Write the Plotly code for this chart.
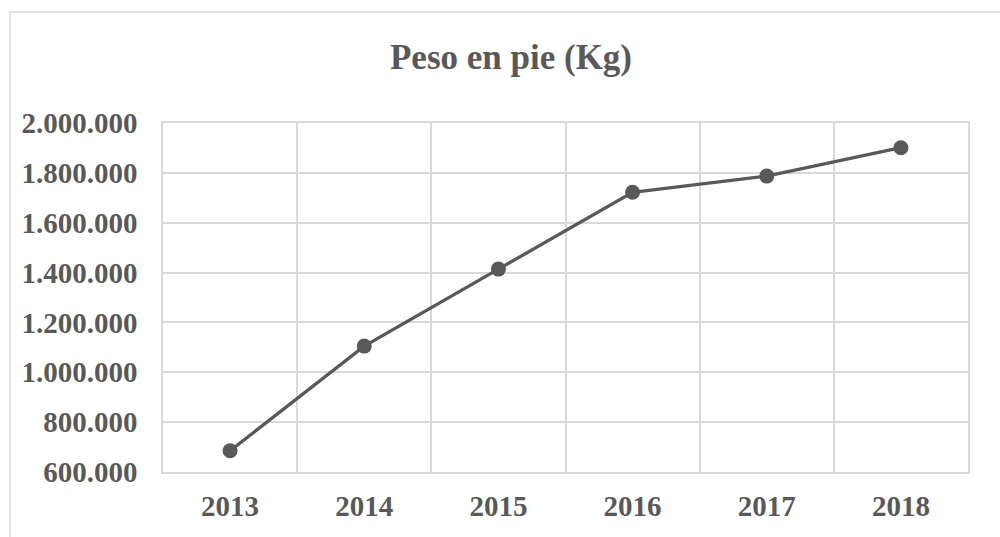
import plotly.graph_objects as go

years = ["2013", "2014", "2015", "2016", "2017", "2018"]
peso = [685000, 1105000, 1414000, 1722000, 1787000, 1901000]
y_ticks = [600000, 800000, 1000000, 1200000, 1400000, 1600000, 1800000, 2000000]

grey = "#595959"
grid = "#d9d9d9"
font_family = "Liberation Serif, Times New Roman, serif"

fig = go.Figure()
fig.add_trace(go.Scatter(
    x=years, y=peso, mode="lines+markers",
    line=dict(color=grey, width=3.3),
    marker=dict(color=grey, size=15),
    showlegend=False,
))

L, R, T, B = 163, 32, 123, 65
pw, ph = 1000 - L - R, 537 - T - B

fig.update_layout(
    width=1000, height=537,
    margin=dict(l=L, r=R, t=T, b=B, autoexpand=False),
    paper_bgcolor="white", plot_bgcolor="white",
    separators=",.",
    title=dict(text="Peso en pie (Kg)", x=0.511, xanchor="center",
               y=1 - 57 / 537, yanchor="middle",
               font=dict(family=font_family, size=35, color=grey, weight="bold")),
    font=dict(family=font_family, color=grey),
    shapes=[dict(type="rect", xref="paper", yref="paper",
                 x0=(10 - L) / pw, x1=1.2, y0=-0.5, y1=(537 - B - 12) / ph,
                 line=dict(color=grid, width=1.5), layer="below")],
)

fig.update_xaxes(
    type="category", range=[-0.5, 5.5], automargin=False,
    showgrid=True, gridcolor=grid, gridwidth=1.5,
    showline=True, linecolor=grid, linewidth=1.5, mirror=True,
    tickfont=dict(family=font_family, size=29, color=grey, weight="bold"),
    ticks="outside", ticklen=0, ticklabelstandoff=7,
    tickson="boundaries",
)
fig.update_yaxes(
    range=[600000, 2000000], tickvals=y_ticks, tickformat=",d", automargin=False,
    showgrid=True, gridcolor=grid, gridwidth=1.5,
    showline=True, linecolor=grid, linewidth=1.5, mirror=True,
    tickfont=dict(family=font_family, size=29, color=grey, weight="bold"),
    ticks="outside", ticklen=0, ticklabelstandoff=18,
    zeroline=False,
)

fig.write_html("out.html", config={"displayModeBar": False},
               post_script="document.body.style.margin='0';")
